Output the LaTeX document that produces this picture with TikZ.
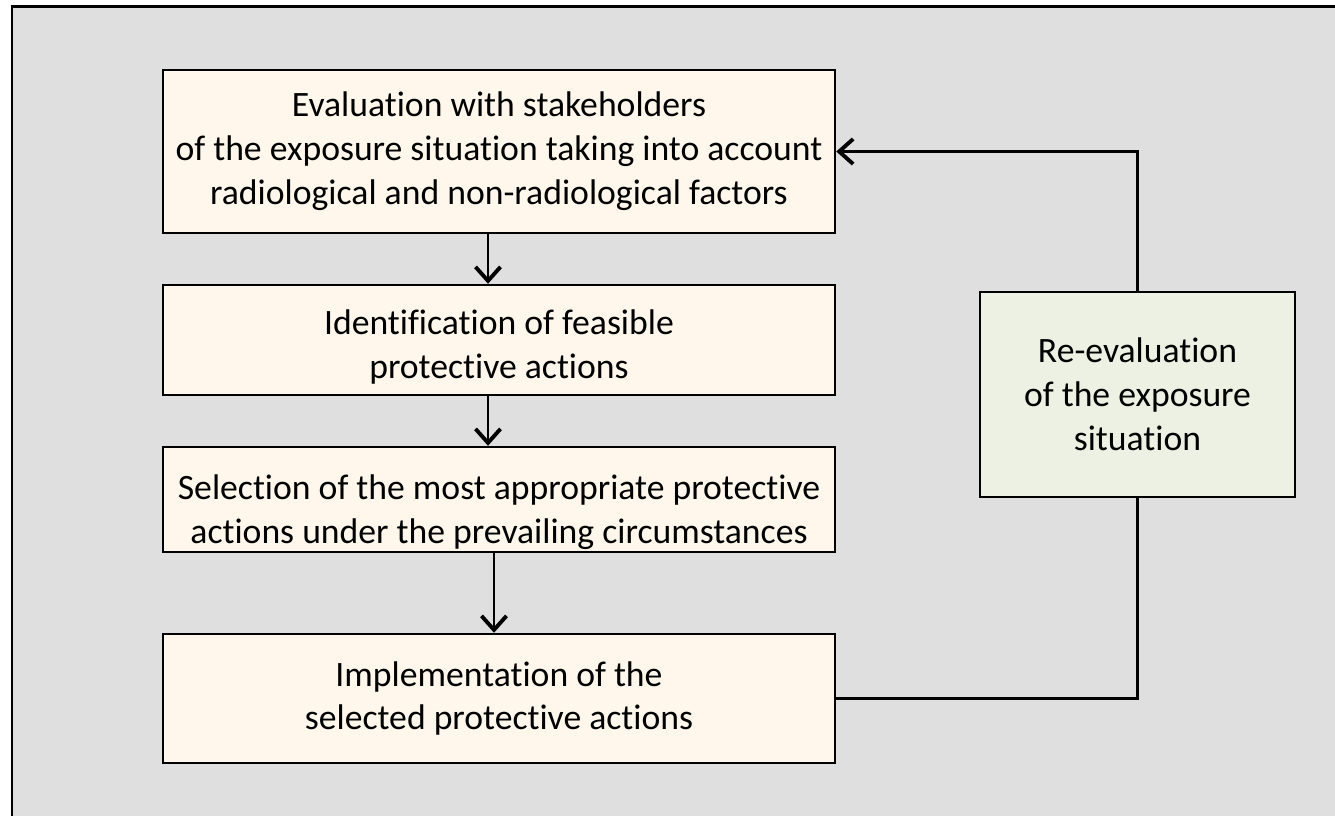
\documentclass[tikz,border=0pt]{standalone}
\usepackage{fontspec}
\setmainfont{Carlito}[Ligatures=NoCommon]
\usetikzlibrary{positioning,arrows.meta,calc}
\definecolor{panelgray}{HTML}{DFDFDF}
\definecolor{stepcream}{HTML}{FFF7EC}
\definecolor{loopgreen}{HTML}{EDF1E3}
\tikzset{
  every picture/.style={line width=1.2pt},
  blk/.style={draw,rectangle,line width=1.4pt,fill=stepcream,minimum width=13.44cm,align=center,
    inner ysep=0pt,font=\fontsize{20.3}{25}\selectfont},
  rev/.style={draw,rectangle,line width=1.4pt,fill=loopgreen,minimum width=6.3cm,minimum height=4.1cm,
    align=center,font=\fontsize{20.3}{25}\selectfont},
  flow/.style={-{Straight Barb[length=2.8mm,width=5mm,line width=2.2pt]},line width=1.2pt},
}
\begin{document}
\begin{tikzpicture}[x=1cm,y=1cm]
\useasboundingbox (0,0) rectangle (26.7,-16.3);
% grey panel behind everything
\draw[line width=1.7pt,fill=panelgray] (0.24,-0.13) rectangle (27.2,-16.8);
% main chain of steps
\node[blk,minimum height=3.26cm] (ev) at (9.98,-3.03)
  {Evaluation with stakeholders\\of the exposure situation taking into account\\radiological and non-radiological factors};
\node[blk,minimum height=2.2cm] (id) at (9.98,-6.8)
  {\rule{0pt}{0.77cm}Identification of feasible\\protective actions};
\node[blk,minimum height=2.1cm] (sel) at (9.98,-9.99)
  {\rule{0pt}{1.0cm}Selection of the most appropriate protective\\actions under the prevailing circumstances};
\node[blk,minimum height=2.58cm] (imp) at (9.98,-13.97)
  {Implementation of the\\selected protective actions};
\draw[flow] ($(ev.south)+(-0.22,0)$) -- ($(id.north)+(-0.22,0)$);
\draw[flow] ($(id.south)+(-0.22,0)$) -- ($(sel.north)+(-0.22,0)$);
\draw[flow] ($(sel.south)+(-0.1,0)$) -- ($(imp.north)+(-0.1,0)$);
% feedback loop
\node[rev] (re) at (22.75,-7.89) {Re-evaluation\\of the exposure\\situation};
\draw (imp.east) -| (re.south);
\draw[flow] (re.north) |- (ev.east);
\end{tikzpicture}
\end{document}
